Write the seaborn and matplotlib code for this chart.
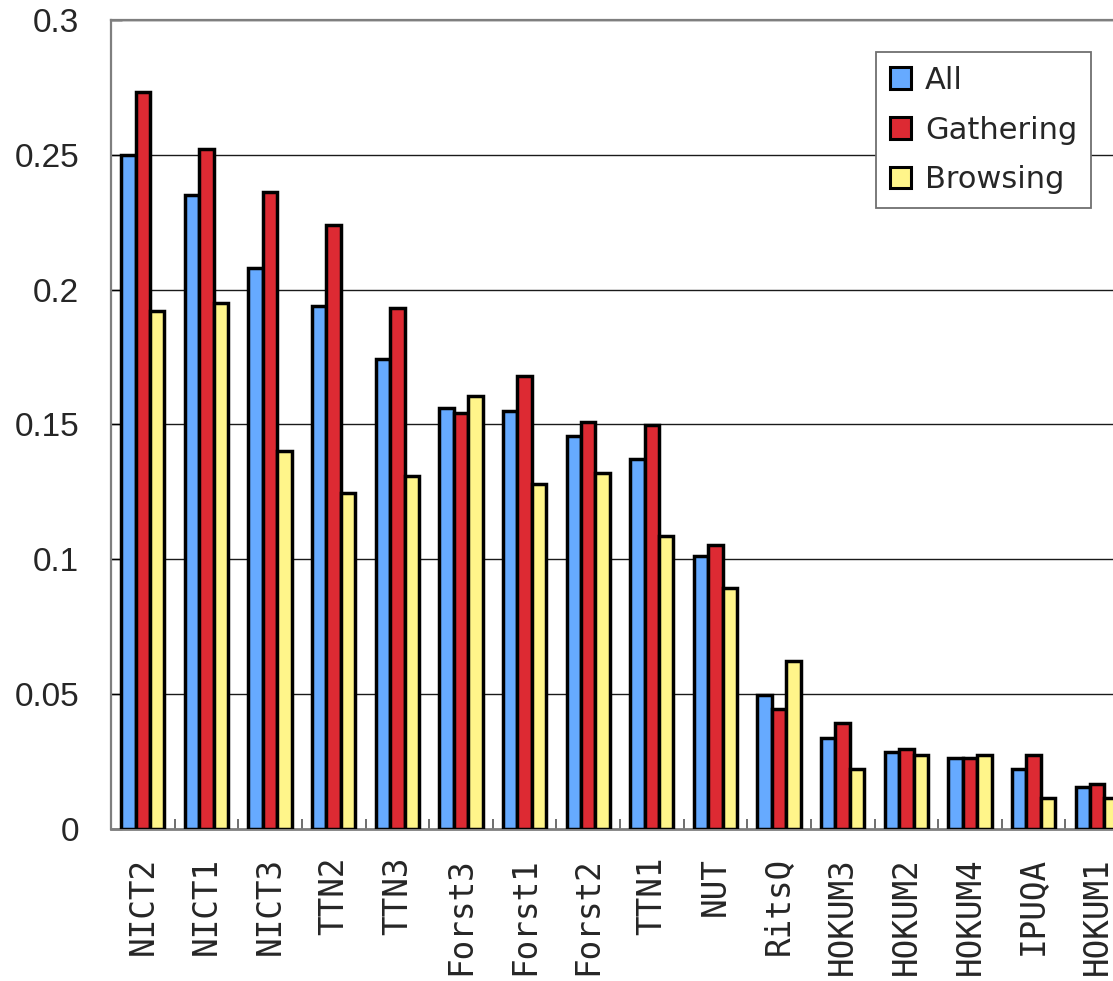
import matplotlib
matplotlib.use("Agg")
import matplotlib.pyplot as plt
from matplotlib.patches import Patch
import numpy as np
import pandas as pd
import seaborn as sns

# Runs, in descending order of the "All" score
runs = ["NICT2", "NICT1", "NICT3", "TTN2", "TTN3", "Forst3", "Forst1", "Forst2",
        "TTN1", "NUT", "RitsQ", "HOKUM3", "HOKUM2", "HOKUM4", "IPUQA", "HOKUM1"]

all_scores = [0.250, 0.235, 0.208, 0.194, 0.1742, 0.1562, 0.1551, 0.1456,
              0.1372, 0.1012, 0.0497, 0.0339, 0.0284, 0.0262, 0.0221, 0.0157]
gathering_scores = [0.2733, 0.252, 0.2363, 0.2238, 0.1931, 0.1541, 0.1680, 0.1509,
                    0.1499, 0.1053, 0.0444, 0.0392, 0.0296, 0.0262, 0.0274, 0.0168]
browsing_scores = [0.192, 0.195, 0.1403, 0.1245, 0.1309, 0.1606, 0.1278, 0.1319,
                   0.1088, 0.0894, 0.0623, 0.0222, 0.0274, 0.0274, 0.0116, 0.0116]

series_names = ["All", "Gathering", "Browsing"]
series_colors = ["#66AAFF", "#DD2A33", "#FFF58A"]

y_ticks = [0, 0.05, 0.1, 0.15, 0.2, 0.25, 0.3]
y_tick_labels = ["0", "0.05", "0.1", "0.15", "0.2", "0.25", "0.3"]

df = pd.DataFrame({
    "run": runs * 3,
    "score": all_scores + gathering_scores + browsing_scores,
    "task": [s for s in series_names for _ in runs],
})

sns.set_theme(style="white")
plt.rcParams["font.family"] = ["Liberation Sans", "DejaVu Sans"]

fig = plt.figure(figsize=(11.13, 9.81), dpi=100)
ax = fig.add_axes([111 / 1113, 152 / 981, 1018 / 1113, 809 / 981])

sns.barplot(data=df, x="run", y="score", hue="task", order=runs,
            hue_order=series_names, palette=series_colors, saturation=1,
            width=0.68, gap=0, edgecolor="black", linewidth=2.5,
            legend=False, ax=ax, zorder=3)

ax.set_xlim(-0.5, len(runs) - 0.5)
ax.set_ylim(0, 0.3)
ax.set_xlabel("")
ax.set_ylabel("")

# Horizontal grid
ax.set_axisbelow(True)
ax.yaxis.grid(True, color="#1a1a1a", linewidth=1.0)
ax.xaxis.grid(False)

# Y axis ticks and labels
ax.set_yticks(y_ticks)
ax.set_yticklabels(y_tick_labels, fontsize=24, family="Liberation Sans")
ax.tick_params(axis="y", direction="in", length=8, width=1.0, color="black",
               pad=23, left=True)

# X axis: category labels, boundary tick marks
ax.set_xticks(np.arange(len(runs)))
ax.set_xticklabels(runs, rotation=90, fontsize=23.5, family="DejaVu Sans Mono")
ax.tick_params(axis="x", which="major", length=0, pad=20)
ax.set_xticks(np.arange(len(runs)) + 0.5, minor=True)
ax.tick_params(axis="x", which="minor", direction="in", length=7, width=1.2,
               color="#555555", bottom=True)

for side in ["left", "bottom", "top", "right"]:
    ax.spines[side].set_visible(True)
    ax.spines[side].set_color("#7f7f7f")
ax.spines["left"].set_linewidth(1.6)
ax.spines["bottom"].set_linewidth(2.0)
ax.spines["top"].set_linewidth(1.6)
ax.spines["right"].set_linewidth(1.6)

handles = [Patch(facecolor=c, edgecolor="black", linewidth=2.2) for c in series_colors]
leg = ax.legend(handles, series_names, loc="upper right",
                bbox_to_anchor=(1091 / 1113, 1 - 52 / 981),
                bbox_transform=fig.transFigure, borderaxespad=0,
                prop={"family": "DejaVu Sans", "size": 22},
                handlelength=0.7, handleheight=0.7, handletextpad=0.45,
                labelspacing=0.68, borderpad=0.45, fancybox=False,
                frameon=True, framealpha=1, edgecolor="#6f6f6f")
leg.get_frame().set_linewidth(1.3)
leg.set_zorder(10)

fig.savefig("out.png", dpi=100)
